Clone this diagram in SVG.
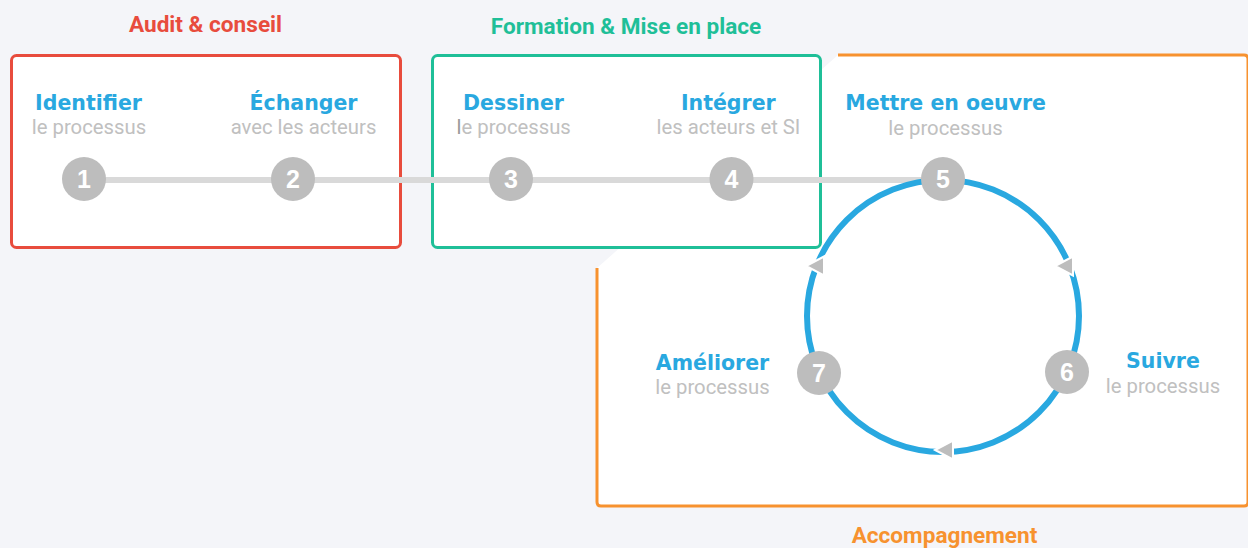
<svg xmlns="http://www.w3.org/2000/svg" width="1248" height="548" viewBox="0 0 1248 548">
<style>
.title{font-family:Roboto,"Liberation Sans",sans-serif;font-weight:700;font-size:22.6px;text-anchor:middle}
.lbl{font-family:"DejaVu Sans","Liberation Sans",sans-serif;font-weight:700;font-size:20.5px;fill:#29a8e0;text-anchor:middle}
.sub{font-family:Roboto,"Liberation Sans",sans-serif;font-weight:400;font-size:20.3px;fill:#c0c0c0;text-anchor:middle}
.num{font-family:"Liberation Sans",Arial,sans-serif;font-weight:700;font-size:25px;fill:#ffffff;text-anchor:middle}
.node{fill:#bdbdbd}
.arrow{fill:#bdbdbd;stroke:#ffffff;stroke-width:2;stroke-linejoin:miter}
</style>
<rect x="0" y="0" width="1248" height="548" fill="#f4f5f9"/>

<g id="group-accompagnement">
  <polygon points="838,55 1248,55 1248,506 597,506 597,268" fill="#ffffff"/>
  <path d="M838,55 H1244 Q1248,55 1248,59 V502 Q1248,506 1244,506 H601 Q597,506 597,502 V268" fill="none" stroke="#f7922f" stroke-width="3"/>
  <text class="title" x="944.5" y="543" fill="#f7922f">Accompagnement</text>
</g>
<g id="group-audit">
  <rect x="11.5" y="55.5" width="389" height="192" rx="5" fill="#ffffff" stroke="#e84c3d" stroke-width="3"/>
  <text class="title" x="205.5" y="31.5" fill="#e84c3d">Audit &amp; conseil</text>
</g>
<g id="group-formation">
  <rect x="432.5" y="55.5" width="388" height="192" rx="5" fill="#ffffff" stroke="#1fbf98" stroke-width="3"/>
  <text class="title" x="626" y="34" fill="#1fbf98">Formation &amp; Mise en place</text>
</g>

<g id="connectors">
  <line x1="84" y1="180" x2="943" y2="180" stroke="#d9d9d9" stroke-width="6"/>
  <circle cx="943" cy="316" r="136" fill="none" stroke="#29a8e0" stroke-width="6"/>
  <polygon class="arrow" points="1055,266 1073,256.5 1073,275.5"/>
  <polygon class="arrow" points="806,266 824,256.5 824,275.5"/>
  <polygon class="arrow" points="935,450 953,440.5 953,459.5"/>
</g>

<g id="node-1">
  <text class="lbl" x="88.5" y="110">Identifier</text>
  <text class="sub" x="89" y="134">le processus</text>
  <circle class="node" cx="84" cy="179" r="22"/>
  <text class="num" x="84" y="188">1</text>
</g>
<g id="node-2">
  <text class="lbl" x="303.5" y="110">Échanger</text>
  <text class="sub" x="303.5" y="134">avec les acteurs</text>
  <circle class="node" cx="293" cy="179" r="22"/>
  <text class="num" x="293" y="188">2</text>
</g>
<g id="node-3">
  <text class="lbl" x="513.5" y="110">Dessiner</text>
  <text class="sub" x="513.7" y="134"><tspan fill="#9a9a9a">l</tspan>e processus</text>
  <circle class="node" cx="511" cy="179" r="22"/>
  <text class="num" x="511" y="188">3</text>
</g>
<g id="node-4">
  <text class="lbl" x="728.3" y="110">Intégrer</text>
  <text class="sub" x="728.5" y="134">les acteurs et SI</text>
  <circle class="node" cx="731.5" cy="179" r="22"/>
  <text class="num" x="731.5" y="188">4</text>
</g>
<g id="node-5">
  <text class="lbl" x="945.7" y="110">Mettre en oeuvre</text>
  <text class="sub" x="945.5" y="135">le processus</text>
  <circle class="node" cx="943" cy="179" r="22"/>
  <text class="num" x="943" y="188">5</text>
</g>
<g id="node-6">
  <text class="lbl" x="1163" y="368">Suivre</text>
  <text class="sub" x="1163" y="393">le processus</text>
  <circle class="node" cx="1067" cy="372" r="22"/>
  <text class="num" x="1067" y="381">6</text>
</g>
<g id="node-7">
  <text class="lbl" x="712.5" y="370">Améliorer</text>
  <text class="sub" x="712.5" y="394">le processus</text>
  <circle class="node" cx="819" cy="373" r="22"/>
  <text class="num" x="819" y="382">7</text>
</g>
</svg>
